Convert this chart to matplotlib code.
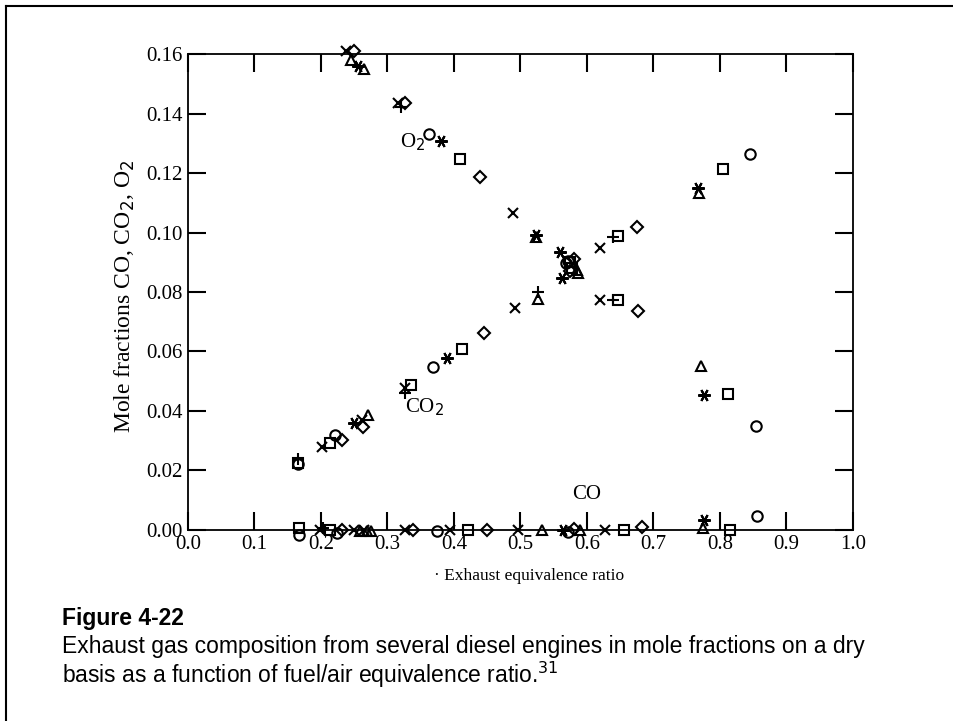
import matplotlib.pyplot as plt
from matplotlib.lines import Line2D

# values (equivalence ratio, mole fraction) - O2, CO2 and CO points per marker
circ_phi = [0.363, 0.569, 0.855, 0.166, 0.221, 0.369, 0.572, 0.845, 0.167, 0.224, 0.374, 0.572, 0.856]
circ_frac = [0.1331, 0.0896, 0.035, 0.0222, 0.0319, 0.0549, 0.0905, 0.1264, -0.0017, -0.001, -0.0005, -0.0008, 0.0047]

sq_phi = [0.409, 0.647, 0.8115, 0.578, 0.166, 0.2135, 0.336, 0.412, 0.647, 0.804, 0.575, 0.167, 0.2135, 0.4205, 0.656, 0.815]
sq_frac = [0.1247, 0.0773, 0.0456, 0.088, 0.0225, 0.0291, 0.0487, 0.061, 0.0988, 0.1212, 0.090, 0.0006, 0.0, 0.0, 0.0, 0.0]

dia_phi = [0.250, 0.326, 0.439, 0.677, 0.580, 0.231, 0.264, 0.445, 0.676, 0.575, 0.231, 0.339, 0.450, 0.580, 0.683]
dia_frac = [0.161, 0.1434, 0.1188, 0.0737, 0.091, 0.0303, 0.0347, 0.0663, 0.1017, 0.087, 0.0, 0.0, 0.0, 0.0003, 0.001]

tri_phi = [0.245, 0.265, 0.524, 0.587, 0.772, 0.271, 0.527, 0.769, 0.585, 0.259, 0.269, 0.276, 0.532, 0.589, 0.775]
tri_frac = [0.158, 0.155, 0.0986, 0.0863, 0.0552, 0.0387, 0.0776, 0.1132, 0.0875, -0.0005, -0.0005, -0.0005, 0.0, 0.0, 0.0006]

x_phi = [0.238, 0.316, 0.489, 0.6195, 0.201, 0.262, 0.326, 0.4917, 0.6195, 0.1985, 0.249, 0.265, 0.326, 0.394, 0.497, 0.627]
x_frac = [0.161, 0.1436, 0.1065, 0.0773, 0.028, 0.037, 0.0476, 0.0745, 0.0947, 0.0, 0.0, 0.0, 0.0, 0.0, 0.0, 0.0]

ast_phi = [0.256, 0.381, 0.524, 0.559, 0.776, 0.249, 0.389, 0.562, 0.767, 0.564, 0.776]
ast_frac = [0.156, 0.1309, 0.0992, 0.0935, 0.0454, 0.0359, 0.0577, 0.0846, 0.1149, 0.0, 0.0034]

plus_phi = [0.321, 0.6396, 0.166, 0.326, 0.527, 0.6396, 0.203]
plus_frac = [0.1423, 0.0773, 0.0238, 0.046, 0.080, 0.0986, 0.0005]

xticks = [0.0, 0.1, 0.2, 0.3, 0.4, 0.5, 0.6, 0.7, 0.8, 0.9, 1.0]
yticks = [0.00, 0.02, 0.04, 0.06, 0.08, 0.10, 0.12, 0.14, 0.16]

serif = 'Liberation Serif'
sans = 'Liberation Sans'

fig = plt.figure(figsize=(9.54, 7.21), dpi=100)
ax = fig.add_axes([0.197, 0.265, 0.697, 0.66])

series = [
    (circ_phi, circ_frac, 'o', 7.5),
    (sq_phi, sq_frac, 's', 6.5),
    (dia_phi, dia_frac, 'D', 6.0),
    (tri_phi, tri_frac, '^', 7.0),
    (x_phi, x_frac, 'x', 7.5),
    (ast_phi, ast_frac, (6, 2, 90), 9.0),
    (plus_phi, plus_frac, '+', 9.0),
]
for phi, frac, m, ms in series:
    ax.plot(phi, frac, linestyle='none', marker=m, ms=ms, mfc='none',
            mec='black', mew=1.5, color='black', clip_on=False)

ax.set_xlim(0, 1.0)
ax.set_ylim(0, 0.16)
ax.set_xticks(xticks)
ax.set_xticklabels([f'{v:.1f}' for v in xticks], fontfamily=serif)
ax.set_yticks(yticks)
ax.set_yticklabels([f'{v:.2f}' for v in yticks], fontfamily=serif)
ax.tick_params(direction='in', length=13, width=1.5, top=True, right=True,
               labelsize=15, pad=4)
for s in ax.spines.values():
    s.set_linewidth(1.3)

ax.set_ylabel('Mole fractions CO, CO$_2$, O$_2$', fontfamily=serif, fontsize=17)
ax.yaxis.set_label_coords(-0.077, 0.49)

ax.text(0.338, 0.1305, 'O$_2$', fontfamily=serif, fontsize=15, ha='center', va='center')
ax.text(0.356, 0.0414, 'CO$_2$', fontfamily=serif, fontsize=15, ha='center', va='center')
ax.text(0.600, 0.0118, 'CO', fontfamily=serif, fontsize=15, ha='center', va='center')

fig.text(0.555, 1 - 576 / 721, '\u00b7 Exhaust equivalence ratio', fontfamily=serif,
         fontsize=12.5, ha='center', va='center')

fig.text(62 / 954, 1 - 618 / 721, 'Figure 4-22', fontfamily=sans, fontweight='bold',
         fontsize=16.5, va='center')
fig.text(62 / 954, 1 - 647 / 721,
         'Exhaust gas composition from several diesel engines in mole fractions on a dry',
         fontfamily=sans, fontsize=16.5, va='center')
fig.text(62 / 954, 1 - 675 / 721,
         'basis as a function of fuel/air equivalence ratio.$^{31}$',
         fontfamily=sans, fontsize=16.5, va='center')

# page frame (top and left edges)
fig.add_artist(Line2D([6 / 954, 6 / 954], [0, 1 - 6 / 721], transform=fig.transFigure,
                      color='black', lw=1.5))
fig.add_artist(Line2D([6 / 954, 1], [1 - 6 / 721, 1 - 6 / 721], transform=fig.transFigure,
                      color='black', lw=1.5))

fig.savefig('out.png', dpi=100)
